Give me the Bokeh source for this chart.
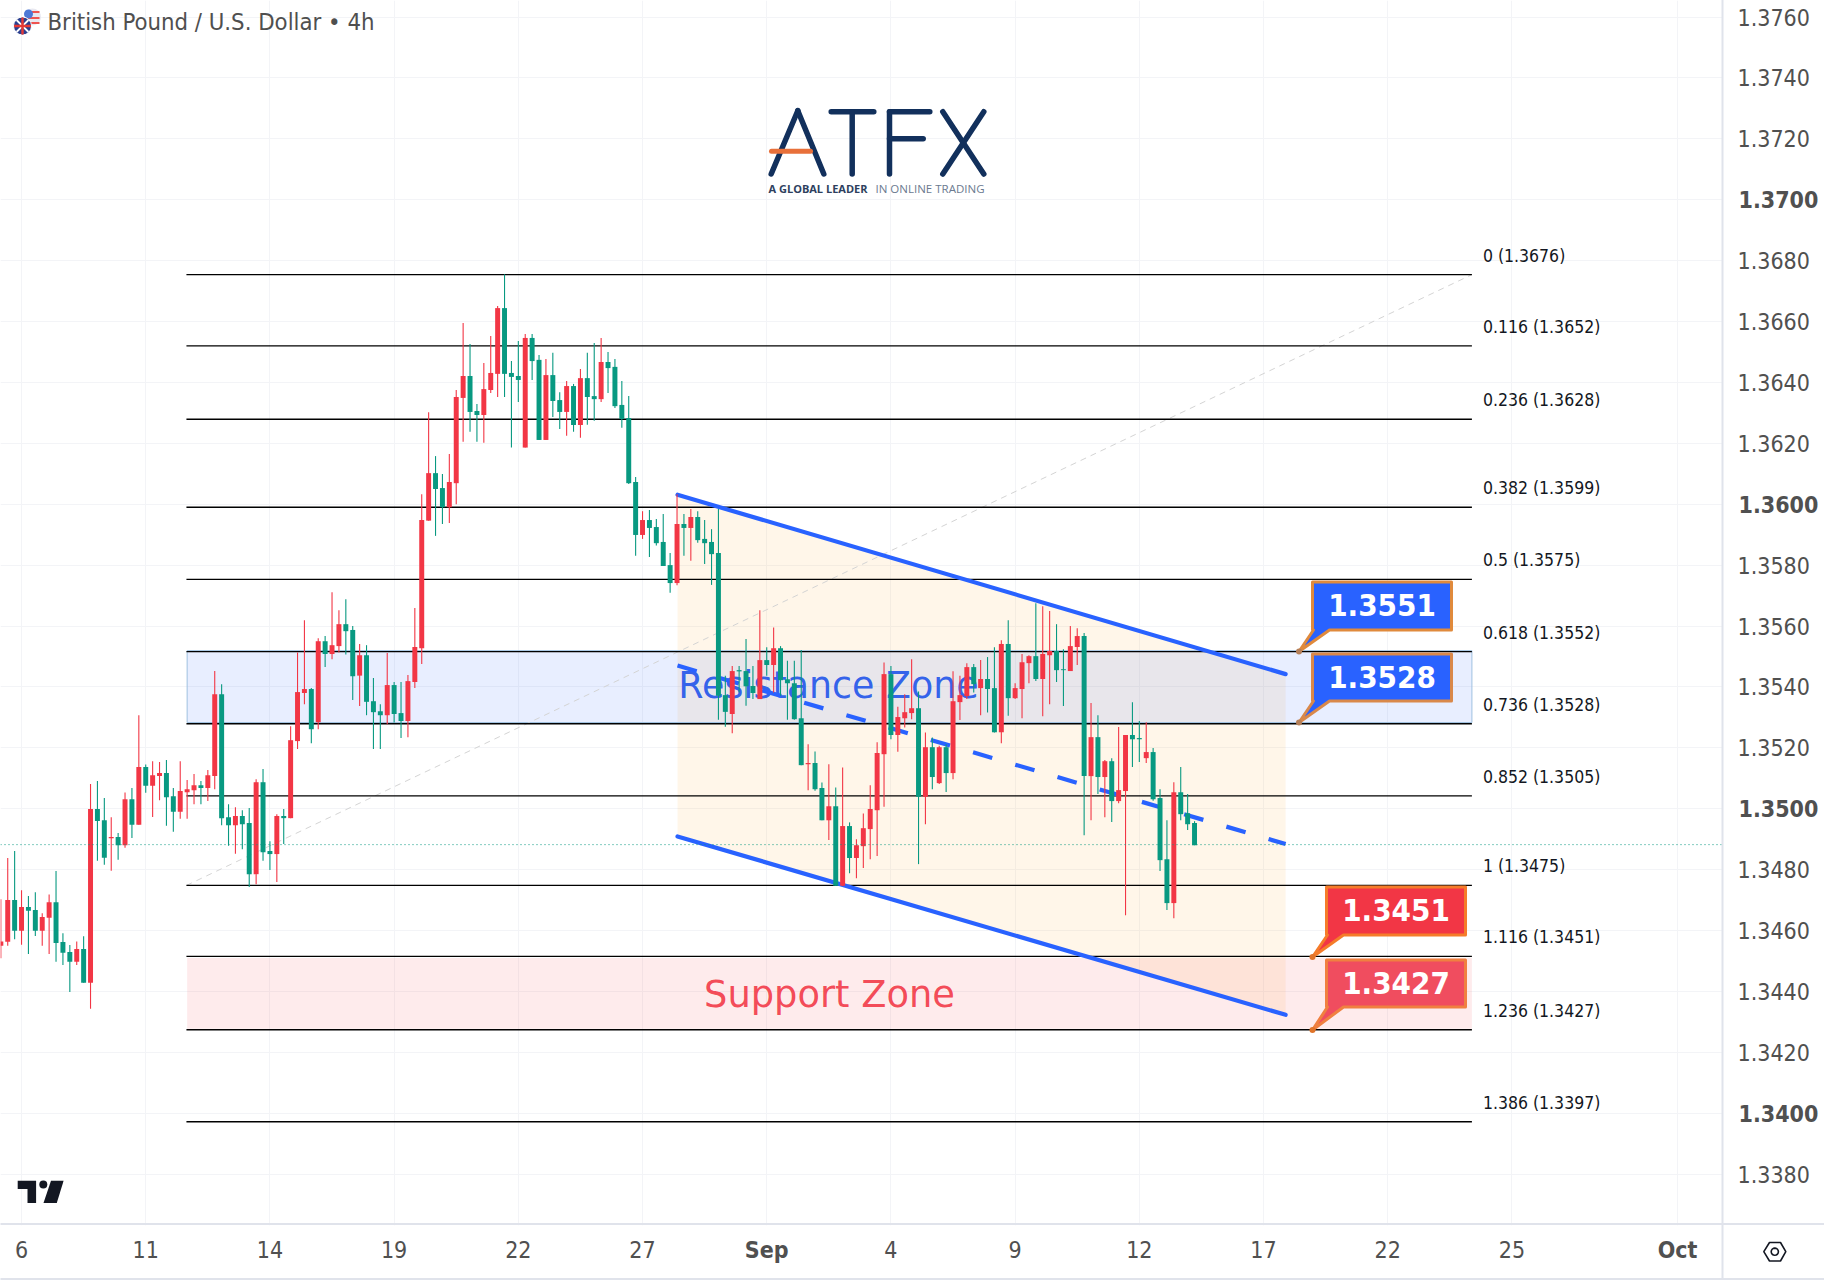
from bokeh.plotting import figure
from bokeh.models import (Range1d, FixedTicker, Span, LinearAxis, NumeralTickFormatter)
from bokeh.core.properties import value
from bokeh.embed import file_html
from bokeh.resources import INLINE
import numpy as np

# ---------- data (prices in 1e-5 points) ----------
direction = ("RRGRGGRRGG" "GRGRGGRGRG" "RGRRGGRRRG" "RRGGRGGRGG" "RGRRRGRGRR" "GGRGGGRGGR"
             "RRRGGRRRGG" "RRRGGGRGGR" "GGRGRGGRGG" "GGGRGGGGRG" "RGGGGGRGGG" "RGRGGGGRGG"
             "RGRGRRRRRG" "RRRGRGRGRR" "RGRGGRGRRR" "GRRGGRRGRG" "RGRRGGRGGG" "RGGG")
highs = [134703,134838,134861,134732,134713,134726,134657,134718,134795,134591,
 134552,134564,134581,135081,135091,135035,134972,134920,135053,135068,
 135307,135145,135156,135153,135160,135068,135156,135094,135114,135091,
 135127,135452,135409,135015,135005,134995,135002,135097,135130,134893,
 134982,134999,135271,135513,135619,135396,135560,135567,135711,135652,
 135688,135600,135541,135537,135429,135343,135511,135416,135416,135439,
 135659,136033,136302,136158,136099,136165,136375,136595,136526,136329,
 136464,136552,136651,136755,136470,136536,136559,136559,136490,136477,
 136497,136368,136405,136395,136444,136497,136529,136546,136500,136477,
 136405,136355,136089,135977,135981,135951,135968,135840,136033,135968,
 135984,135977,135948,135918,135984,135437,135469,135469,135557,135469,
 135652,135530,135595,135534,135486,135486,135521,135212,135188,135086,
 135146,135070,135135,134955,134900,134984,135077,135218,135480,135469,
 135335,135376,135491,135385,135250,135234,135207,135212,135451,135437,
 135478,135475,135488,135498,135530,135553,135619,135412,135508,135504,
 135675,135665,135649,135606,135524,135600,135593,135577,135347,135307,
 135160,135166,135268,135242,135350,135288,135284,135199,135064,134962,
 135087,135137,135048,134959]
body_tops = [134564,134700,134700,134677,134677,134667,134644,134693,134693,134562,
 134529,134539,134539,134999,134999,134962,134907,134907,135031,135031,
 135137,135137,135110,135117,135117,135041,135058,135064,135077,135077,
 135110,135376,135376,134972,134976,134976,134953,135087,135087,134861,
 134976,134976,135225,135383,135393,135393,135550,135550,135537,135606,
 135606,135587,135504,135504,135353,135320,135406,135406,135314,135419,
 135531,135948,136102,136102,136053,136073,136352,136421,136421,136306,
 136378,136431,136644,136644,136431,136421,136546,136546,136474,136424,
 136424,136342,136388,136388,136414,136414,136355,136467,136467,136451,
 136326,136283,136073,135948,135948,135925,135876,135800,135935,135935,
 135958,135958,135886,135876,135840,135373,135452,135455,135452,135403,
 135488,135488,135527,135527,135425,135412,135297,135150,135150,135068,
 135008,135008,134943,134943,134880,134936,134999,135183,135442,135442,
 135301,135317,135330,135330,135202,135202,135202,135202,135353,135373,
 135465,135465,135426,135426,135396,135541,135541,135396,135481,135501,
 135501,135508,135518,135518,135458,135534,135567,135567,135235,135235,
 135156,135156,135061,135242,135242,135232,135186,135186,135035,134834,
 135054,135054,134985,134953]
body_bottoms = [134550,134563,134599,134599,134665,134599,134599,134642,134559,134527,
 134497,134497,134428,134428,134960,134839,134903,134880,134880,134947,
 134947,135075,135075,135107,135038,134990,134990,135054,135061,135068,
 135068,135107,134969,134946,134946,134949,134785,134785,134857,134851,
 134851,134969,134969,135222,135380,135261,135284,135508,135508,135534,
 135583,135435,135437,135351,135317,135307,135307,135311,135288,135288,
 135416,135527,135946,136050,135990,135990,136069,136349,136303,136293,
 136293,136375,136428,136428,136418,136408,136186,136470,136211,136211,
 136339,136303,136303,136260,136260,136352,136345,136345,136447,136322,
 136280,136069,135899,135899,135922,135872,135797,135741,135741,135922,
 135922,135882,135872,135836,135371,135318,135311,135451,135402,135380,
 135360,135472,135472,135422,135412,135294,135143,135146,135064,134962,
 134962,134747,134747,134838,134838,134877,134933,134995,135179,135242,
 135242,135297,135314,135039,135039,135104,135084,135117,135117,135350,
 135370,135409,135396,135393,135251,135251,135363,135363,135393,135478,
 135426,135426,135504,135455,135455,135452,135531,135107,135107,135104,
 135104,135025,135025,135058,135228,135228,135166,135031,134831,134690,
 134690,134982,134949,134880]
lows = [134509,134550,134571,134553,134523,134582,134550,134523,134497,134487,
 134398,134487,134428,134343,134829,134816,134796,134832,134872,134904,
 134947,135052,134973,135028,134944,134924,134967,134967,135015,135015,
 135025,135064,134946,134878,134852,134867,134743,134752,134829,134799,
 134759,134884,134969,135196,135343,135215,135261,135465,135491,135513,
 135506,135357,135337,135307,135196,135196,135277,135283,135232,135235,
 135396,135475,135946,135896,135935,135938,136000,136205,136238,136205,
 136202,136365,136352,136352,136186,136336,136186,136408,136211,136211,
 136286,136247,136225,136238,136218,136261,136274,136336,136365,136316,
 136251,136066,135831,135886,135827,135864,135797,135709,135734,135831,
 135814,135873,135804,135735,135292,135269,135248,135382,135338,135360,
 135360,135437,135382,135371,135292,135292,135143,135061,135059,134962,
 134897,134747,134745,134788,134772,134805,134834,134845,135006,135228,
 135187,135267,135294,134818,134949,135064,135081,135055,135097,135291,
 135360,135382,135307,135316,135250,135215,135305,135360,135297,135412,
 135419,135304,135343,135416,135337,135452,135472,134913,134962,135048,
 134972,134956,135018,134650,135137,135153,135150,135026,134795,134667,
 134640,134962,134930,134880]

y_ticks = [1.338,1.34,1.342,1.344,1.346,1.348,1.35,1.352,1.354,1.356,1.358,1.36,1.362,
           1.364,1.366,1.368,1.37,1.372,1.374,1.376]
bold_y_ticks = [1.34, 1.35, 1.36, 1.37]
x_tick_index = [3,21,39,57,75,93,111,129,147,165,183,201,219,243]
x_tick_labels = ["6","11","14","19","22","27","Sep","4","9","12","17","22","25","Oct"]
bold_x_labels = ["Sep","Oct"]

fib_ratios = ["0","0.116","0.236","0.382","0.5","0.618","0.736","0.852","1","1.116","1.236","1.386"]
fib_quotes = ["1.3676","1.3652","1.3628","1.3599","1.3575","1.3552","1.3528","1.3505","1.3475","1.3451","1.3427","1.3397"]
fib_levels = [1.36754,1.36520,1.36279,1.35990,1.35753,1.35516,1.35279,1.35042,1.34748,1.34515,1.34274,1.33972]
fib_x = [26.9, 213.2]
trend_prices = [1.34748, 1.36754]

resistance_zone = (1.35283, 1.35519)
support_zone = (1.34277, 1.34510)
channel_x = [98.07, 186.2]
channel_upper = [1.36031, 1.35442]
channel_middle = [1.35470, 1.34884]
channel_lower = [1.34909, 1.34323]
last_price = 1.34882

UP, DOWN = "#f23645", "#089981"
GRID = "#f3f4f7"; SEP = "#e0e3eb"; AXTXT = "#505050"; FONT = "DejaVu Sans Condensed"

# ---------- figure ----------
W, H, FW, FH = 1824, 1282, 1722, 1225
x0, dx = 0.33, 6.9
y350, k = 808.2, 30450      # screen row of 1.3500 and pixels per unit of price
p = figure(width=W, height=H, output_backend="svg", toolbar_location=None,
           x_range=Range1d((0-x0)/dx, (FW-x0)/dx),
           y_range=Range1d(1.35-(FH-y350)/k, 1.35+y350/k),
           y_axis_location="right", min_border_left=0, min_border_top=0,
           min_border_right=W-FW, min_border_bottom=H-FH, outline_line_color=None,
           background_fill_color="white", border_fill_color="white")
p.extra_x_ranges["px"] = Range1d(0, FW)
p.extra_y_ranges["px"] = Range1d(FH+1.5, 1.5)
px = dict(x_range_name="px", y_range_name="px")

def style_axis(ax, bold=False):
    ax.major_tick_line_color = None; ax.minor_tick_line_color = None; ax.axis_line_color = None
    ax.major_label_text_font = FONT; ax.major_label_text_font_size = "23px"
    ax.major_label_text_color = AXTXT
    ax.major_label_text_font_style = "bold" if bold else "normal"

yax = p.yaxis[0]
yax.ticker = FixedTicker(ticks=y_ticks)
yax.formatter = NumeralTickFormatter(format="0.0000")
yax.major_label_overrides = {t: "" for t in bold_y_ticks}
yax.major_label_standoff = 9
style_axis(yax)

xax = p.xaxis[0]
xax.ticker = FixedTicker(ticks=x_tick_index)
xax.major_label_overrides = {i: ("" if s in bold_x_labels else s) for i, s in zip(x_tick_index, x_tick_labels)}
xax.major_label_standoff = 9
style_axis(xax)

# the round-number ticks are bold: a second axis of each kind, pulled back over the first
yax_bold = LinearAxis(ticker=FixedTicker(ticks=bold_y_ticks), formatter=NumeralTickFormatter(format="0.0000"),
                      major_label_standoff=-80)
style_axis(yax_bold, bold=True)
p.add_layout(yax_bold, "right")
xax_bold = LinearAxis(ticker=FixedTicker(ticks=[i for i, s in zip(x_tick_index, x_tick_labels) if s in bold_x_labels]),
                      major_label_overrides={i: s for i, s in zip(x_tick_index, x_tick_labels) if s in bold_x_labels},
                      major_label_standoff=-30)
style_axis(xax_bold, bold=True)
p.add_layout(xax_bold, "below")

p.xgrid.ticker = FixedTicker(ticks=x_tick_index); p.ygrid.ticker = FixedTicker(ticks=y_ticks)
p.xgrid.grid_line_color = GRID; p.ygrid.grid_line_color = GRID

# channel fill
p.patch(channel_x + channel_x[::-1], channel_upper + channel_lower[::-1],
        fill_color="#ff9800", fill_alpha=0.085, line_color=None)
# zones
p.quad(left=fib_x[0]+0.1, right=fib_x[1], bottom=resistance_zone[0], top=resistance_zone[1],
       fill_color="#2962ff", fill_alpha=0.11, line_color="#9fc0e0", line_width=1)
p.quad(left=fib_x[0]+0.1, right=fib_x[1], bottom=support_zone[0], top=support_zone[1],
       fill_color="#f23645", fill_alpha=0.1, line_color=None)
# fib trend + lines
p.line(fib_x, trend_prices, line_color="#d4d4d4", line_width=1, line_dash="6 5")
p.segment(x0=[fib_x[0]]*len(fib_levels), x1=[fib_x[1]]*len(fib_levels), y0=fib_levels, y1=fib_levels,
          line_color="#000000", line_width=1.3)
p.text(x=[fib_x[1]]*len(fib_levels), y=fib_levels, x_offset=11, y_offset=-19,
       text=[f"{r} ({q})" for r, q in zip(fib_ratios, fib_quotes)],
       text_font=value(FONT), text_font_size="17.5px", text_color="#131722", text_baseline="middle")
# zone texts
p.text(x=[828], y=[686], text=["Resistance Zone"], text_font=value("DejaVu Sans"), text_font_size="36.4px",
       text_color="#2a5bea", text_alpha=0.95, text_align="center", text_baseline="middle", **px)
p.text(x=[829], y=[995], text=["Support Zone"], text_font=value("DejaVu Sans"), text_font_size="36.8px",
       text_color="#f23645", text_alpha=0.9, text_align="center", text_baseline="middle", **px)
# channel lines
for ys in (channel_upper, channel_lower):
    p.line(channel_x, ys, line_color="#2962ff", line_width=4.2, line_cap="round")
p.line(channel_x, channel_middle, line_color="#2962ff", line_width=4.2, line_dash="20 24")
# last price
p.add_layout(Span(location=last_price, dimension="width", line_color=DOWN, line_width=1, line_dash="1 3"))

# candles
idx = np.arange(len(highs))
hi, lo = np.array(highs)/1e5, np.array(lows)/1e5
top, bot = np.array(body_tops)/1e5, np.array(body_bottoms)/1e5
cols = [UP if d == "R" else DOWN for d in direction]
p.segment(idx, hi, idx, lo, line_color=cols, line_width=1.1)
p.vbar(x=idx, width=0.72, top=top, bottom=bot, fill_color=cols, line_color=None)

# callouts
def callout(left, right, top_, bottom, ax, ay, fill, edge, txt, dot):
    xs = [left, right, right, left+17, ax, left+1, left]
    ys = [top_, top_, bottom, bottom, ay, bottom, bottom]
    p.patch(xs, ys, fill_color=fill, line_color=edge, line_width=3, line_join="round", **px)
    p.scatter([ax], [ay], size=6, fill_color=dot, line_color=None, **px)
    p.text(x=[(left+right)/2], y=[(top_+bottom)/2-1], text=[txt], text_color="white", text_font=value(FONT),
           text_font_size="31px", text_font_style="bold", text_align="center", text_baseline="middle", **px)
callout(1312, 1451, 583, 631, 1298.5, 652.5, "#2962ff", "#e08a3c", "1.3551", "#b5805a")
callout(1312, 1451, 655, 702, 1298.5, 723.5, "#2962ff", "#d9884a", "1.3528", "#b5805a")
callout(1326, 1465, 888, 936, 1312, 958, "#f23645", "#f57c2a", "1.3451", "#e0742a")
callout(1326, 1465, 961, 1008, 1312, 1031, "#f04d5f", "#f08040", "1.3427", "#e0742a")

# ATFX logo (vector strokes)
NAVY, ORANGE = "#12305c", "#e8703a"
logo = [([797.3, 770.7], [111.7, 175]), ([797.3, 823.3], [111.7, 175]),
        ([830.7, 873.3], [112.7, 112.7]), ([851.7, 851.7], [112.7, 175]),
        ([889, 889], [112.7, 175]), ([889, 929.3], [112.7, 112.7]), ([889, 922.7], [139.7, 139.7]),
        ([942.3, 983.3], [112.7, 175]), ([983.3, 942.3], [112.7, 175])]
for xs, ys in logo:
    p.line(xs, ys, line_color=NAVY, line_width=5.5, line_cap="round", **px)
p.line([771, 810], [152.3, 152.3], line_color=ORANGE, line_width=5, line_cap="round", **px)
p.text(x=[768], y=[189], text=["A GLOBAL LEADER"], text_font=value("Open Sans"), text_font_size="11px",
       text_font_style="bold", text_color="#2e3f5e", text_baseline="middle", **px)
p.text(x=[875], y=[189], text=["IN ONLINE TRADING"], text_font=value("Open Sans"), text_font_size="11.5px",
       text_color="#6b7a90", text_baseline="middle", **px)

# title and flags
p.text(x=[47], y=[23], text=["British Pound / U.S. Dollar \u2022 4h"], text_font=value(FONT), text_font_size="23.7px",
       text_color="#4f4f4f", text_baseline="middle", **px)
p.scatter([32], [18], size=17, fill_color="#e8e8f0", line_color=None, **px)
p.segment([25, 25, 25], [13, 19, 24], [39, 39, 39], [13, 19, 24], line_color="#ef5350", line_width=2.2, **px)
p.scatter([28], [15], size=9, fill_color="#4d78d6", line_color=None, **px)
p.scatter([22], [27], size=18, fill_color="#2a3f8f", line_color="white", line_width=1, **px)
p.segment([16, 16], [21, 33], [28, 28], [33, 21], line_color="white", line_width=1.8, **px)
p.segment([22, 13.5], [18.5, 27], [22, 30.5], [35.5, 27], line_color="#e53935", line_width=2.4, **px)

# TradingView mark
p.patch([17.2, 35.6, 35.6, 27, 27, 17.2], [1181.7, 1181.7, 1204, 1204, 1190, 1190], fill_color="#131722", line_color=None, **px)
p.scatter([42.8], [1185.5], size=8, fill_color="#131722", line_color=None, **px)
p.patch([50.5, 63.1, 56.3, 43], [1181.7, 1181.7, 1204, 1204], fill_color="#131722", line_color=None, **px)

# panel separators and settings icon (drawn over the frame edge)
p.line([FW, FW], [0, 1280], line_color=SEP, line_width=2, level="overlay", **px)
p.line([0, W], [FH, FH], line_color=SEP, line_width=2, level="overlay", **px)
p.line([0, W], [1280, 1280], line_color=SEP, line_width=2, level="overlay", **px)
p.patch([1763.3, 1769, 1780, 1785.3, 1780, 1769], [1252.7, 1243.5, 1243.5, 1252.7, 1262, 1262],
        fill_color=None, line_color="#131722", line_width=1.6, level="overlay", **px)
# hub of the settings icon: a small polygon, because point glyphs outside the frame are culled
hub_t = np.linspace(0, 2*np.pi, 17)
p.patch(1774.3+3.6*np.cos(hub_t), 1252.7+3.6*np.sin(hub_t), fill_color=None, line_color="#131722",
        line_width=1.6, level="overlay", **px)

open("out.html", "w").write(file_html(p, INLINE))
